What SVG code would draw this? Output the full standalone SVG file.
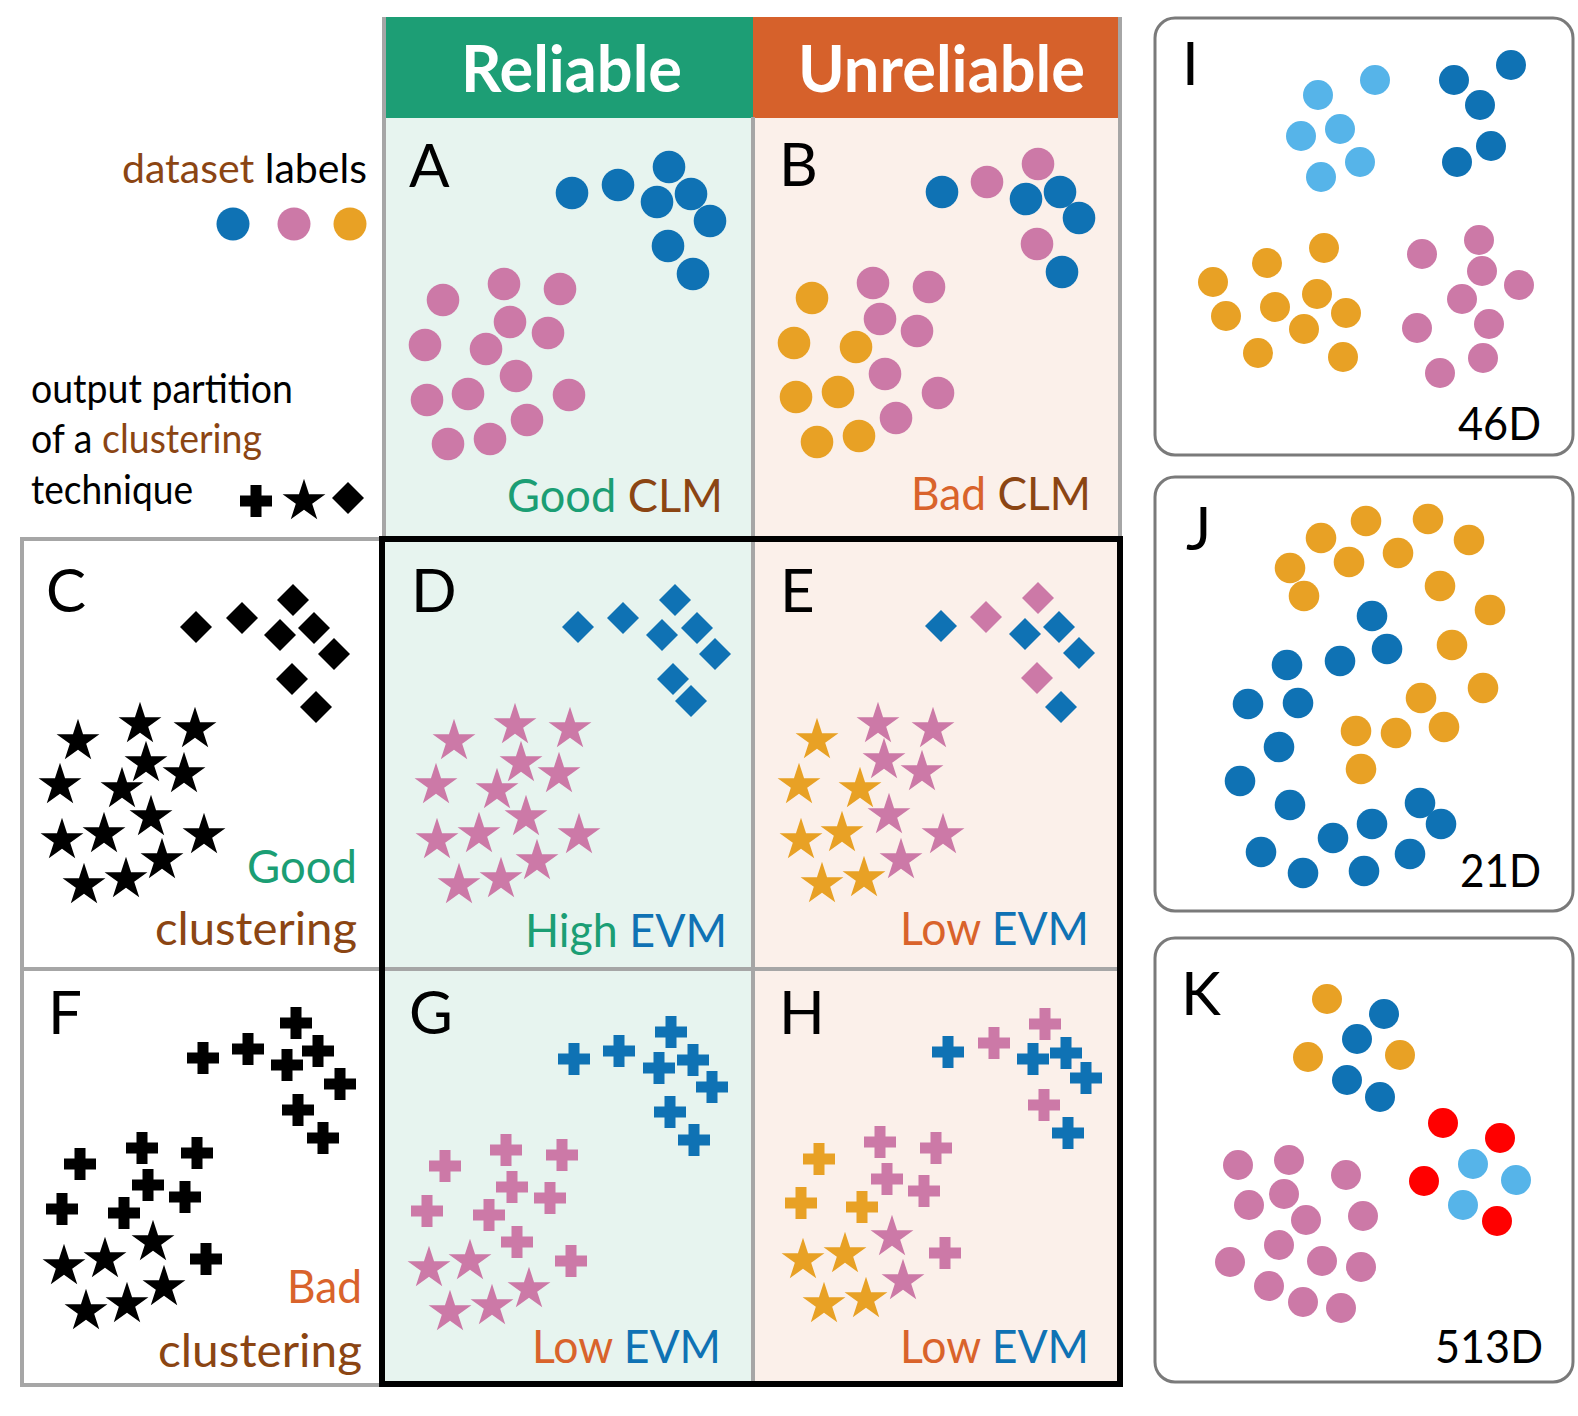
<svg xmlns="http://www.w3.org/2000/svg" xmlns:xlink="http://www.w3.org/1999/xlink" width="1578" height="1416" viewBox="0 0 1578 1416">
<style>
text{font-family:Lato,"Open Sans","Liberation Sans",sans-serif}
.hd{font-size:65px;font-weight:bold;fill:#fff}
.lt{font-size:60px;fill:#000}
.cp{font-size:47px}
.lg{font-size:41.5px;fill:#000}
.b{fill:#0f72b4}.p{fill:#cc79a7}.o{fill:#e8a125}.lb{fill:#56b4e9}.r{fill:#ff0000}.k{fill:#000}
.gr{fill:#1b9e74}.br{fill:#8b4513}.vm{fill:#d9632b}.ev{fill:#0f72b4}
.grid{stroke:#a6a6a6;stroke-width:4;fill:none}
.box{fill:#fff;stroke:#7a7a7a;stroke-width:3}
</style>
<defs>
<path id="st" d="M0,-20.35L5.05,-4.81L21.4,-4.8L8.18,4.81L13.23,20.35L0,10.75L-13.23,20.35L-8.18,4.81L-21.4,-4.8L-5.05,-4.81Z"/>
<path id="pl" d="M-5.5,-16h11v10.5h10.5v11h-10.5v10.5h-11v-10.5h-10.5v-11h10.5z"/>
<path id="dm" d="M0,-16L16,0L0,16L-16,0Z"/>
</defs>
<rect width="1578" height="1416" fill="#fff"/>

<g id="backgrounds">
<rect x="384" y="117" width="369" height="1267" fill="#e7f4ef"/>
<rect x="753" y="117" width="367" height="1267" fill="#fbf0ea"/>
<rect x="385" y="17" width="368" height="101" fill="#1d9e75"/>
<rect x="753" y="17" width="367" height="101" fill="#d6612b"/>
</g>

<g id="connectors">
<path class="grid" d="M384,17V539M753,117V1384M1120,17V539M22,539H382M22,537V1387M20,969H1120M20,1385H382"/>
<rect x="382" y="539" width="738" height="845" fill="none" stroke="#000" stroke-width="6"/>
</g>

<g id="header-reliable"><text class="hd" x="461" y="92" textLength="221" lengthAdjust="spacingAndGlyphs">Reliable</text></g>
<g id="header-unreliable"><text class="hd" x="798" y="92" textLength="287" lengthAdjust="spacingAndGlyphs">Unreliable</text></g>

<g id="legend">
<text class="lg" x="122" y="183" textLength="245" lengthAdjust="spacingAndGlyphs"><tspan class="br">dataset</tspan> labels</text>
<circle cx="233" cy="224" r="16.5" class="b"/><circle cx="294" cy="224" r="16.5" class="p"/><circle cx="350" cy="224" r="16.5" class="o"/>
<text class="lg" x="31" y="403" textLength="262" lengthAdjust="spacingAndGlyphs">output partition</text>
<text class="lg" x="31" y="453" textLength="231" lengthAdjust="spacingAndGlyphs">of a <tspan class="br">clustering</tspan></text>
<text class="lg" x="31" y="504" textLength="162" lengthAdjust="spacingAndGlyphs">technique</text>
<use href="#pl" x="256" y="501" class="k"/><use href="#st" x="304" y="499" class="k"/><use href="#dm" x="348" y="498" class="k"/>
</g>

<g id="panel-A">
<text class="lt" x="409" y="187">A</text>
<g class="b"><circle cx="572" cy="193" r="16.3"/><circle cx="618" cy="185" r="16.3"/><circle cx="669" cy="167" r="16.3"/><circle cx="657" cy="202" r="16.3"/><circle cx="691" cy="194" r="16.3"/><circle cx="710" cy="221" r="16.3"/><circle cx="668" cy="246" r="16.3"/><circle cx="693" cy="274" r="16.3"/></g>
<g class="p"><circle cx="443" cy="300" r="16.3"/><circle cx="504" cy="284" r="16.3"/><circle cx="560" cy="289" r="16.3"/><circle cx="510" cy="322" r="16.3"/><circle cx="548" cy="333" r="16.3"/><circle cx="425" cy="345" r="16.3"/><circle cx="486" cy="349" r="16.3"/><circle cx="516" cy="376" r="16.3"/><circle cx="427" cy="400" r="16.3"/><circle cx="468" cy="394" r="16.3"/><circle cx="569" cy="395" r="16.3"/><circle cx="527" cy="420" r="16.3"/><circle cx="448" cy="444" r="16.3"/><circle cx="490" cy="439" r="16.3"/></g>
<text class="cp" x="507" y="512" textLength="216" lengthAdjust="spacingAndGlyphs"><tspan class="gr">Good</tspan> <tspan class="br">CLM</tspan></text>
</g>

<g id="panel-B">
<text class="lt" x="779" y="186">B</text>
<g class="b"><circle cx="942" cy="192" r="16.3"/><circle cx="1026" cy="199" r="16.3"/><circle cx="1060" cy="192" r="16.3"/><circle cx="1079" cy="218" r="16.3"/><circle cx="1062" cy="272" r="16.3"/></g>
<g class="p"><circle cx="987" cy="182" r="16.3"/><circle cx="1038" cy="164" r="16.3"/><circle cx="1037" cy="244" r="16.3"/><circle cx="873" cy="283" r="16.3"/><circle cx="929" cy="287" r="16.3"/><circle cx="880" cy="319" r="16.3"/><circle cx="917" cy="331" r="16.3"/><circle cx="885" cy="374" r="16.3"/><circle cx="938" cy="393" r="16.3"/><circle cx="896" cy="418" r="16.3"/></g>
<g class="o"><circle cx="812" cy="298" r="16.3"/><circle cx="794" cy="343" r="16.3"/><circle cx="856" cy="347" r="16.3"/><circle cx="796" cy="397" r="16.3"/><circle cx="838" cy="392" r="16.3"/><circle cx="817" cy="442" r="16.3"/><circle cx="859" cy="436" r="16.3"/></g>
<text class="cp" x="911" y="510" textLength="180" lengthAdjust="spacingAndGlyphs"><tspan class="vm">Bad</tspan> <tspan class="br">CLM</tspan></text>
</g>

<g id="panel-C">
<text class="lt" x="46" y="612">C</text>
<g class="k"><use href="#dm" x="196" y="627"/><use href="#dm" x="242" y="618"/><use href="#dm" x="293" y="600"/><use href="#dm" x="280" y="635"/><use href="#dm" x="314" y="628"/><use href="#dm" x="334" y="654"/><use href="#dm" x="292" y="679"/><use href="#dm" x="316" y="707"/>
<use href="#st" x="78" y="739"/><use href="#st" x="140" y="722"/><use href="#st" x="195" y="727"/><use href="#st" x="146" y="761"/><use href="#st" x="184" y="772"/><use href="#st" x="60" y="783"/><use href="#st" x="122" y="787"/><use href="#st" x="151" y="815"/><use href="#st" x="62" y="838"/><use href="#st" x="104" y="832"/><use href="#st" x="204" y="833"/><use href="#st" x="162" y="858"/><use href="#st" x="84" y="883"/><use href="#st" x="126" y="877"/></g>
<text class="cp gr" x="247" y="883" textLength="110" lengthAdjust="spacingAndGlyphs">Good</text>
<text class="cp br" x="155" y="945" textLength="202" lengthAdjust="spacingAndGlyphs">clustering</text>
</g>

<g id="panel-D">
<text class="lt" x="411" y="612">D</text>
<g class="b"><use href="#dm" x="578" y="627"/><use href="#dm" x="623" y="618"/><use href="#dm" x="675" y="600"/><use href="#dm" x="662" y="635"/><use href="#dm" x="697" y="628"/><use href="#dm" x="715" y="654"/><use href="#dm" x="673" y="679"/><use href="#dm" x="691" y="701"/></g>
<g class="p"><use href="#st" x="454" y="739"/><use href="#st" x="515" y="723"/><use href="#st" x="570" y="727"/><use href="#st" x="521" y="761"/><use href="#st" x="559" y="772"/><use href="#st" x="436" y="783"/><use href="#st" x="497" y="788"/><use href="#st" x="526" y="815"/><use href="#st" x="437" y="838"/><use href="#st" x="479" y="832"/><use href="#st" x="579" y="833"/><use href="#st" x="537" y="859"/><use href="#st" x="459" y="883"/><use href="#st" x="501" y="877"/></g>
<text class="cp" x="525" y="947" textLength="202" lengthAdjust="spacingAndGlyphs"><tspan class="gr">High</tspan> <tspan class="ev">EVM</tspan></text>
</g>

<g id="panel-E">
<text class="lt" x="780" y="612">E</text>
<g class="b"><use href="#dm" x="941" y="626"/><use href="#dm" x="1025" y="634"/><use href="#dm" x="1059" y="627"/><use href="#dm" x="1079" y="653"/><use href="#dm" x="1061" y="707"/></g>
<g class="p"><use href="#dm" x="986" y="617"/><use href="#dm" x="1038" y="598"/><use href="#dm" x="1037" y="678"/>
<use href="#st" x="878" y="722"/><use href="#st" x="933" y="727"/><use href="#st" x="884" y="758"/><use href="#st" x="922" y="770"/><use href="#st" x="889" y="813"/><use href="#st" x="943" y="833"/><use href="#st" x="901" y="858"/></g>
<g class="o"><use href="#st" x="817" y="738"/><use href="#st" x="799" y="783"/><use href="#st" x="860" y="787"/><use href="#st" x="801" y="838"/><use href="#st" x="842" y="831"/><use href="#st" x="822" y="882"/><use href="#st" x="864" y="876"/></g>
<text class="cp" x="900" y="945" textLength="189" lengthAdjust="spacingAndGlyphs"><tspan class="vm">Low</tspan> <tspan class="ev">EVM</tspan></text>
</g>

<g id="panel-F">
<text class="lt" x="48" y="1034">F</text>
<g class="k"><use href="#pl" x="203" y="1058"/><use href="#pl" x="248" y="1049"/><use href="#pl" x="296" y="1023"/><use href="#pl" x="287" y="1065"/><use href="#pl" x="318" y="1051"/><use href="#pl" x="340" y="1084"/><use href="#pl" x="298" y="1110"/><use href="#pl" x="323" y="1138"/>
<use href="#pl" x="80" y="1164"/><use href="#pl" x="142" y="1148"/><use href="#pl" x="197" y="1153"/><use href="#pl" x="148" y="1185"/><use href="#pl" x="185" y="1197"/><use href="#pl" x="62" y="1209"/><use href="#pl" x="124" y="1213"/><use href="#pl" x="206" y="1259"/>
<use href="#st" x="64" y="1264"/><use href="#st" x="105" y="1257"/><use href="#st" x="153" y="1240"/><use href="#st" x="164" y="1285"/><use href="#st" x="86" y="1309"/><use href="#st" x="127" y="1302"/></g>
<text class="cp vm" x="287" y="1303" textLength="75" lengthAdjust="spacingAndGlyphs">Bad</text>
<text class="cp br" x="158" y="1367" textLength="204" lengthAdjust="spacingAndGlyphs">clustering</text>
</g>

<g id="panel-G">
<text class="lt" x="409" y="1034">G</text>
<g class="b"><use href="#pl" x="574" y="1059"/><use href="#pl" x="619" y="1051"/><use href="#pl" x="671" y="1032"/><use href="#pl" x="659" y="1068"/><use href="#pl" x="693" y="1060"/><use href="#pl" x="712" y="1087"/><use href="#pl" x="670" y="1112"/><use href="#pl" x="694" y="1140"/></g>
<g class="p"><use href="#pl" x="445" y="1166"/><use href="#pl" x="506" y="1150"/><use href="#pl" x="562" y="1155"/><use href="#pl" x="512" y="1187"/><use href="#pl" x="550" y="1198"/><use href="#pl" x="427" y="1211"/><use href="#pl" x="489" y="1215"/><use href="#pl" x="517" y="1242"/><use href="#pl" x="571" y="1261"/>
<use href="#st" x="429" y="1266"/><use href="#st" x="470" y="1259"/><use href="#st" x="529" y="1287"/><use href="#st" x="450" y="1310"/><use href="#st" x="492" y="1304"/></g>
<text class="cp" x="532" y="1363" textLength="189" lengthAdjust="spacingAndGlyphs"><tspan class="vm">Low</tspan> <tspan class="ev">EVM</tspan></text>
</g>

<g id="panel-H">
<text class="lt" x="779" y="1034">H</text>
<g class="b"><use href="#pl" x="948" y="1052"/><use href="#pl" x="1033" y="1059"/><use href="#pl" x="1066" y="1053"/><use href="#pl" x="1086" y="1078"/><use href="#pl" x="1068" y="1133"/></g>
<g class="p"><use href="#pl" x="994" y="1043"/><use href="#pl" x="1045" y="1024"/><use href="#pl" x="1044" y="1105"/>
<use href="#pl" x="880" y="1142"/><use href="#pl" x="936" y="1148"/><use href="#pl" x="887" y="1179"/><use href="#pl" x="924" y="1191"/><use href="#pl" x="945" y="1253"/>
<use href="#st" x="892" y="1235"/><use href="#st" x="903" y="1279"/></g>
<g class="o"><use href="#pl" x="819" y="1159"/><use href="#pl" x="801" y="1203"/><use href="#pl" x="862" y="1207"/>
<use href="#st" x="803" y="1258"/><use href="#st" x="845" y="1252"/><use href="#st" x="824" y="1302"/><use href="#st" x="866" y="1297"/></g>
<text class="cp" x="900" y="1363" textLength="189" lengthAdjust="spacingAndGlyphs"><tspan class="vm">Low</tspan> <tspan class="ev">EVM</tspan></text>
</g>

<g id="panel-I">
<rect class="box" x="1155" y="18" width="418" height="437" rx="20"/>
<text class="lt" x="1182" y="85">I</text>
<g class="lb"><circle cx="1318" cy="95" r="15"/><circle cx="1375" cy="80" r="15"/><circle cx="1301" cy="136" r="15"/><circle cx="1340" cy="129" r="15"/><circle cx="1360" cy="162" r="15"/><circle cx="1321" cy="177" r="15"/></g>
<g class="b"><circle cx="1454" cy="80" r="15"/><circle cx="1511" cy="65" r="15"/><circle cx="1480" cy="105" r="15"/><circle cx="1491" cy="146" r="15"/><circle cx="1457" cy="162" r="15"/></g>
<g class="o"><circle cx="1324" cy="248" r="15"/><circle cx="1267" cy="263" r="15"/><circle cx="1213" cy="282" r="15"/><circle cx="1317" cy="294" r="15"/><circle cx="1275" cy="307" r="15"/><circle cx="1226" cy="316" r="15"/><circle cx="1346" cy="313" r="15"/><circle cx="1304" cy="329" r="15"/><circle cx="1258" cy="353" r="15"/><circle cx="1343" cy="357" r="15"/></g>
<g class="p"><circle cx="1479" cy="240" r="15"/><circle cx="1422" cy="254" r="15"/><circle cx="1482" cy="271" r="15"/><circle cx="1519" cy="285" r="15"/><circle cx="1462" cy="299" r="15"/><circle cx="1489" cy="324" r="15"/><circle cx="1417" cy="328" r="15"/><circle cx="1483" cy="358" r="15"/><circle cx="1440" cy="373" r="15"/></g>
<text class="cp" x="1458" y="440" fill="#000" textLength="83" lengthAdjust="spacingAndGlyphs">46D</text>
</g>

<g id="panel-J">
<rect class="box" x="1155" y="477" width="418" height="434" rx="20"/>
<text class="lt" x="1186" y="550">J</text>
<g class="o"><circle cx="1366" cy="521" r="15.3"/><circle cx="1428" cy="519" r="15.3"/><circle cx="1321" cy="538" r="15.3"/><circle cx="1469" cy="540" r="15.3"/><circle cx="1398" cy="553" r="15.3"/><circle cx="1349" cy="562" r="15.3"/><circle cx="1290" cy="568" r="15.3"/><circle cx="1440" cy="586" r="15.3"/><circle cx="1304" cy="596" r="15.3"/><circle cx="1490" cy="610" r="15.3"/><circle cx="1452" cy="645" r="15.3"/><circle cx="1483" cy="688" r="15.3"/><circle cx="1421" cy="698" r="15.3"/><circle cx="1444" cy="727" r="15.3"/><circle cx="1356" cy="731" r="15.3"/><circle cx="1396" cy="733" r="15.3"/><circle cx="1361" cy="769" r="15.3"/></g>
<g class="b"><circle cx="1372" cy="616" r="15.3"/><circle cx="1387" cy="649" r="15.3"/><circle cx="1340" cy="661" r="15.3"/><circle cx="1287" cy="665" r="15.3"/><circle cx="1248" cy="704" r="15.3"/><circle cx="1298" cy="703" r="15.3"/><circle cx="1279" cy="747" r="15.3"/><circle cx="1240" cy="781" r="15.3"/><circle cx="1290" cy="805" r="15.3"/><circle cx="1420" cy="803" r="15.3"/><circle cx="1441" cy="824" r="15.3"/><circle cx="1372" cy="824" r="15.3"/><circle cx="1333" cy="838" r="15.3"/><circle cx="1261" cy="852" r="15.3"/><circle cx="1410" cy="854" r="15.3"/><circle cx="1303" cy="873" r="15.3"/><circle cx="1364" cy="871" r="15.3"/></g>
<text class="cp" x="1460" y="887" fill="#000" textLength="81" lengthAdjust="spacingAndGlyphs">21D</text>
</g>

<g id="panel-K">
<rect class="box" x="1155" y="938" width="418" height="444" rx="20"/>
<text class="lt" x="1181" y="1015">K</text>
<g class="o"><circle cx="1327" cy="999" r="15"/><circle cx="1308" cy="1057" r="15"/><circle cx="1400" cy="1055" r="15"/></g>
<g class="b"><circle cx="1384" cy="1014" r="15"/><circle cx="1357" cy="1039" r="15"/><circle cx="1347" cy="1080" r="15"/><circle cx="1380" cy="1097" r="15"/></g>
<g class="r"><circle cx="1443" cy="1123" r="15"/><circle cx="1500" cy="1138" r="15"/><circle cx="1424" cy="1181" r="15"/><circle cx="1497" cy="1221" r="15"/></g>
<g class="lb"><circle cx="1473" cy="1164" r="15"/><circle cx="1516" cy="1180" r="15"/><circle cx="1463" cy="1205" r="15"/></g>
<g class="p"><circle cx="1238" cy="1165" r="15"/><circle cx="1289" cy="1160" r="15"/><circle cx="1346" cy="1175" r="15"/><circle cx="1249" cy="1205" r="15"/><circle cx="1284" cy="1194" r="15"/><circle cx="1306" cy="1220" r="15"/><circle cx="1363" cy="1216" r="15"/><circle cx="1279" cy="1245" r="15"/><circle cx="1230" cy="1262" r="15"/><circle cx="1322" cy="1261" r="15"/><circle cx="1361" cy="1267" r="15"/><circle cx="1269" cy="1286" r="15"/><circle cx="1303" cy="1302" r="15"/><circle cx="1341" cy="1308" r="15"/></g>
<text class="cp" x="1435" y="1363" fill="#000" textLength="108" lengthAdjust="spacingAndGlyphs">513D</text>
</g>
</svg>
